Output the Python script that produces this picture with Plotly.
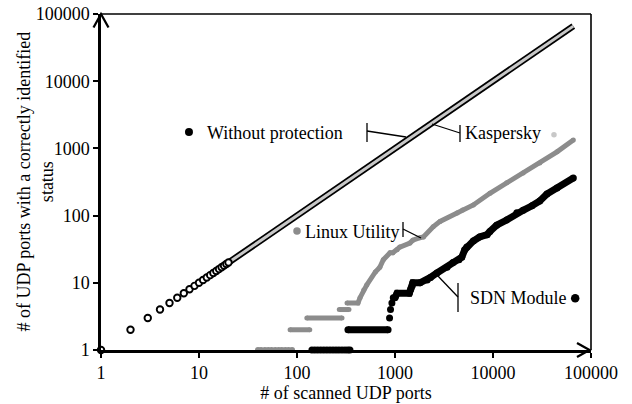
import plotly.graph_objects as go

# ---------------- data ----------------
tick_vals = [1, 10, 100, 1000, 10000, 100000]
tick_text = ["1", "10", "100", "1000", "10000", "100000"]

# Without protection: every scanned port identified (discrete points at the low end)
wp_x = [1, 2, 3, 4, 5, 6, 7, 8, 9, 10, 11, 12, 13, 14, 15, 16, 17, 18, 19, 20]
wp_y = [1, 2, 3, 4, 5, 6, 7, 8, 9, 10, 11, 12, 13, 14, 15, 16, 17, 18, 19, 20]
# dense part of "Without protection" and "Kaspersky" (overlapping, y = x)
wp_line_x = [20, 66000]
wp_line_y = [20, 66000]
kas_x = [20, 66000]
kas_y = [20, 66000]

# Linux Utility
linux_floor_x = [40, 43, 47, 51, 55, 60, 65, 70, 76, 82, 89]
linux_floor_y = [1, 1, 1, 1, 1, 1, 1, 1, 1, 1, 1]
linux_step_start = [85, 126, 270]
linux_step_end = [135, 288, 339]
linux_step_y = [2, 3, 4]
linux_x = [324, 419, 440, 480, 515, 630, 700, 760, 890, 950, 1050, 1120, 1420, 1520,
           1800, 1950, 2450, 2880, 4300, 4900, 6300, 9300, 13800, 20300, 30000, 45000, 66000]
linux_y = [5, 5, 6, 7.8, 9.3, 14.5, 17, 22, 28, 28, 31, 34, 39, 43,
           47, 48, 68, 82, 109, 121, 144, 215, 307, 430, 608, 890, 1330]

# SDN Module
sdn_floor_x = [142, 152, 163, 175, 188, 202, 217, 233, 250, 268, 288, 309, 330, 347]
sdn_floor_y = [1, 1, 1, 1, 1, 1, 1, 1, 1, 1, 1, 1, 1, 1]
sdn_step_start = [331]
sdn_step_end = [850]
sdn_step_y = [2]
sdn_dots_x = [880, 900, 930, 960]
sdn_dots_y = [3, 4, 5, 6]
sdn_x = [1000, 1050, 1400, 1450, 1500, 1520, 1800, 2130, 2300, 2680,
         3400, 3900, 4500, 4800, 5150, 5400, 6300, 7300, 8700, 9300, 10900, 13800,
         17500, 20300, 25000, 30000, 35500, 45000, 66000]
sdn_y = [6, 7, 7, 8, 9, 10, 10, 11, 12, 14,
         17, 20, 22, 24, 31, 34, 42, 48, 52, 58, 72, 86,
         110, 120, 140, 165, 210, 257, 363]

# legend-like labels
label_names = ["Without protection", "Kaspersky", "Linux Utility", "SDN Module"]
label_dot_x = [7.9, 41900, 100, 69000]
label_dot_y = [1750, 1590, 59, 5.9]

# ---------------- styling ----------------
FONT = "Liberation Serif"
BLACK = "#000000"
GRAY = "#8c8c8c"
LIGHT = "#c8c8c8"

fig = go.Figure()

def steps(starts, ends, ys):
    xs, yv = [], []
    for a, b, y in zip(starts, ends, ys):
        xs += [a, b, None]
        yv += [y, y, None]
    return xs, yv

# Without protection - dense double line, Kaspersky inside
fig.add_trace(go.Scatter(x=wp_line_x, y=wp_line_y, mode="lines",
                         line=dict(color=BLACK, width=6.5), showlegend=False))
fig.add_trace(go.Scatter(x=kas_x, y=kas_y, mode="lines",
                         line=dict(color=LIGHT, width=3), showlegend=False,
                         name="Kaspersky"))
fig.add_trace(go.Scatter(x=wp_x, y=wp_y, mode="markers", cliponaxis=False,
                         marker=dict(symbol="circle", size=6.5, color="white",
                                     line=dict(color=BLACK, width=1.9)),
                         showlegend=False, name="Without protection"))

# Linux Utility
sx, sy = steps(linux_step_start, linux_step_end, linux_step_y)
fig.add_trace(go.Scatter(x=sx, y=sy, mode="lines+markers",
                         line=dict(color=GRAY, width=5), marker=dict(color=GRAY, size=5),
                         showlegend=False))
fig.add_trace(go.Scatter(x=linux_x, y=linux_y, mode="lines+markers",
                         line=dict(color=GRAY, width=5), marker=dict(color=GRAY, size=5),
                         showlegend=False, name="Linux Utility"))
fig.add_trace(go.Scatter(x=linux_floor_x, y=linux_floor_y, mode="markers", cliponaxis=False,
                         marker=dict(color=GRAY, size=6), showlegend=False))

# SDN Module
sx, sy = steps(sdn_step_start, sdn_step_end, sdn_step_y)
fig.add_trace(go.Scatter(x=sx, y=sy, mode="lines+markers",
                         line=dict(color=BLACK, width=7), marker=dict(color=BLACK, size=7),
                         showlegend=False))
fig.add_trace(go.Scatter(x=sdn_dots_x, y=sdn_dots_y, mode="markers",
                         marker=dict(color=BLACK, size=7), showlegend=False))
fig.add_trace(go.Scatter(x=sdn_x, y=sdn_y, mode="lines+markers",
                         line=dict(color=BLACK, width=7), marker=dict(color=BLACK, size=7),
                         showlegend=False, name="SDN Module"))
fig.add_trace(go.Scatter(x=sdn_floor_x, y=sdn_floor_y, mode="markers", cliponaxis=False,
                         marker=dict(color=BLACK, size=7), showlegend=False))

# label dots
dot_colors = [BLACK, LIGHT, GRAY, BLACK]
dot_sizes = [8, 5.5, 7.5, 8.5]
for i in range(4):
    fig.add_trace(go.Scatter(x=[label_dot_x[i]], y=[label_dot_y[i]], mode="markers",
                             cliponaxis=False,
                             marker=dict(color=dot_colors[i], size=dot_sizes[i]),
                             showlegend=False))

# ---------------- layout ----------------
L, R, T, B = 101, 41, 14, 54
W, H = 632, 404
pw, ph = W - L - R, H - T - B

def px2paper(px, py):
    return (px - L) / pw, (H - B - py) / ph

annotations = []
label_px = [(205, 133), (463, 133), (303, 232), (468, 298)]
for name, (px, py) in zip(label_names, label_px):
    xp, yp = px2paper(px, py)
    annotations.append(dict(text=name, x=xp, y=yp, xref="paper", yref="paper",
                            xanchor="left", yanchor="middle", showarrow=False,
                            font=dict(family=FONT, size=18, color=BLACK)))

# y-axis title as rotated annotation
tx, _ = px2paper(34.5, 0)
annotations.append(dict(text="# of UDP ports with a correctly identified<br>status",
                        x=tx, y=0.5, xref="paper", yref="paper", textangle=-90,
                        xanchor="center", yanchor="middle", showarrow=False,
                        font=dict(family=FONT, size=18, color=BLACK)))

shapes = []
# top and right frame
shapes.append(dict(type="line", xref="paper", yref="paper", x0=0, x1=1, y0=1, y1=1,
                   line=dict(color=BLACK, width=1.6)))
shapes.append(dict(type="line", xref="paper", yref="paper", x0=1, x1=1, y0=0, y1=1,
                   line=dict(color=BLACK, width=1.6)))

# axis arrow heads as open chevrons (pixel positions -> paper)
def path_of(points):
    parts = []
    for i, p in enumerate(points):
        xp, yp = px2paper(*p)
        parts.append(("M" if i == 0 else "L") + f"{xp:.5f},{yp:.5f}")
    return " ".join(parts)

for pts in ([(93.5, 27.5), (101, 14), (108.5, 27.5)],
            [(577, 343), (589.5, 350), (577, 357)]):
    shapes.append(dict(type="path", xref="paper", yref="paper", path=path_of(pts),
                       line=dict(color=BLACK, width=2.3), layer="above"))

# label leader lines
leaders = [
    [(367, 123), (367, 142)], [(367, 131), (406, 137)],
    [(432, 124), (460, 133)], [(460, 125), (460, 142)],
    [(403, 222), (403, 237)], [(403, 229), (421, 238)],
    [(437, 275), (458, 297)], [(458, 283), (458, 312)],
]
for (a, b) in leaders:
    x0, y0 = px2paper(*a)
    x1, y1 = px2paper(*b)
    shapes.append(dict(type="line", xref="paper", yref="paper", x0=x0, y0=y0, x1=x1, y1=y1,
                       line=dict(color=BLACK, width=1.3)))

axis_common = dict(type="log", range=[0, 5], showgrid=False, zeroline=False,
                   showline=True, linecolor=BLACK, linewidth=2.5,
                   ticks="outside", ticklen=5, tickwidth=1.5, tickcolor=BLACK,
                   tickvals=tick_vals, ticktext=tick_text,
                   tickfont=dict(family=FONT, size=18, color=BLACK))

fig.update_layout(
    width=W, height=H,
    margin=dict(l=L, r=R, t=T, b=B, autoexpand=False),
    paper_bgcolor="white", plot_bgcolor="white",
    xaxis=dict(**axis_common,
               title=dict(text="# of scanned UDP ports", standoff=2,
                          font=dict(family=FONT, size=18, color=BLACK))),
    yaxis=dict(**axis_common),
    annotations=annotations,
    shapes=shapes,
    showlegend=False,
)

fig.write_html("out.html", config={"displayModeBar": False})
